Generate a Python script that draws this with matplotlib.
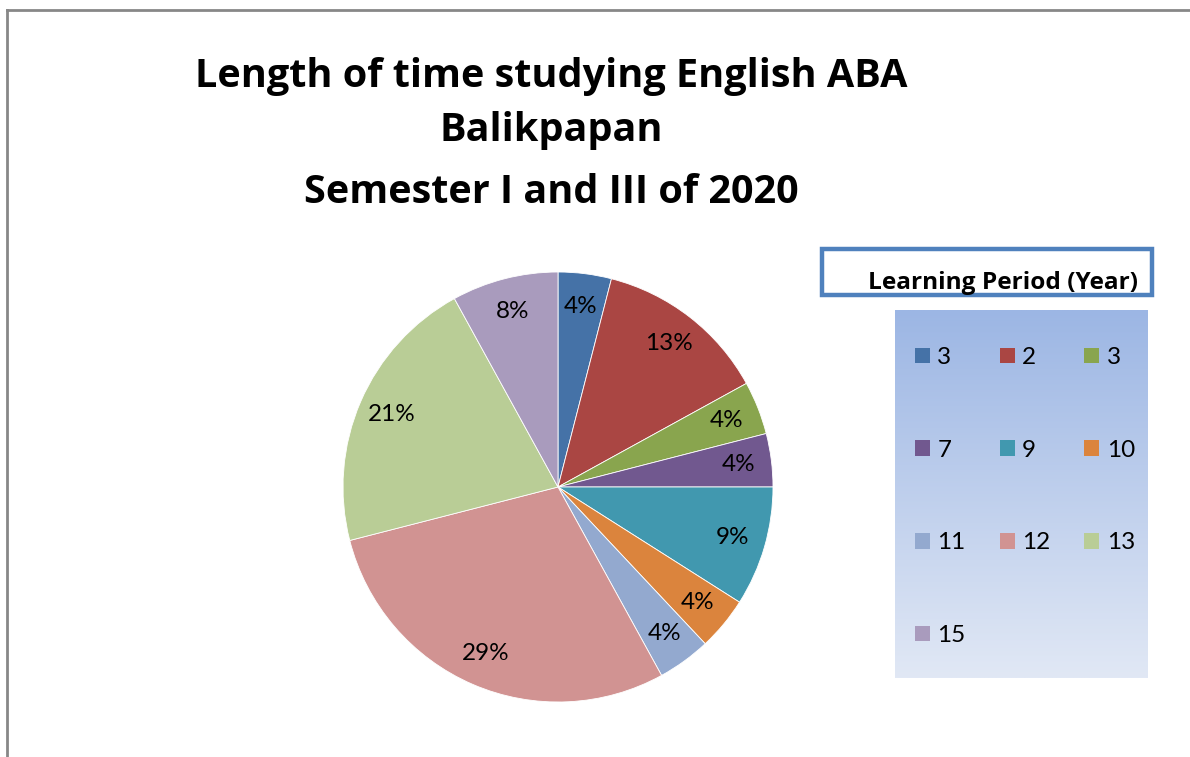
import numpy as np
import matplotlib
matplotlib.use("Agg")
import matplotlib.pyplot as plt
from matplotlib.patches import Rectangle
from matplotlib.lines import Line2D
from matplotlib.colors import LinearSegmentedColormap

plt.rcParams['font.family'] = ['Lato', 'DejaVu Sans']

# ---- data ----
title_lines = ["Length of time studying English ABA", "Balikpapan", "Semester I and III of 2020"]
legend_title = "Learning Period (Year)"
periods = ["3", "2", "3", "7", "9", "10", "11", "12", "13", "15"]
percents = [4, 13, 4, 4, 9, 4, 4, 29, 21, 8]
colors = ["#4572A7", "#AA4643", "#89A54E", "#71588F", "#4198AF",
          "#DB843D", "#93A9CF", "#D19392", "#B9CD96", "#A99BBD"]

W, H = 1190, 757
fig = plt.figure(figsize=(W / 100, H / 100), dpi=100)

def fx(x):
    return x / W

def fy(y):
    return 1 - y / H

# outer border (top and left)
fig.add_artist(Line2D([fx(7), fx(7)], [fy(10), 0], color="#878787", lw=2))
fig.add_artist(Line2D([fx(7), 1], [fy(10), fy(10)], color="#878787", lw=2))

# title
title_y = [87, 141, 203]
for line, yb in zip(title_lines, title_y):
    fig.text(fx(551), fy(yb), line, ha="center", va="baseline",
             fontsize=28.5, fontweight="bold", color="black",
             family=["Open Sans", "DejaVu Sans"])

# pie
cx, cy, R = 558, 487, 215
ax = fig.add_axes([fx(cx - R), fy(cy + R), 2 * R / W, 2 * R / H])
wedges, texts, autotexts = ax.pie(
    percents, colors=colors, startangle=90, counterclock=False,
    autopct="%.0f%%", pctdistance=0.845,
    wedgeprops=dict(edgecolor="white", linewidth=0.6),
    textprops=dict(fontsize=17.5, color="black"))
ax.set_xlim(-1, 1)
ax.set_ylim(-1, 1)
ax.set_aspect("equal")
ax.axis("off")

# legend gradient background
gx0, gy0, gx1, gy1 = 895, 310, 1148, 678
gax = fig.add_axes([fx(gx0), fy(gy1), (gx1 - gx0) / W, (gy1 - gy0) / H])
cmap = LinearSegmentedColormap.from_list("g", ["#9CB6E4", "#E1E8F5"])
grad = np.linspace(0, 1, 256).reshape(-1, 1)
gax.imshow(grad, aspect="auto", cmap=cmap, extent=[0, 1, 0, 1], origin="upper")
gax.axis("off")

# legend title box
fig.add_artist(Rectangle((fx(822), fy(295)), (1152 - 822) / W, (295 - 249) / H,
                         fill=False, edgecolor="#4F81BD", lw=3.2))
fig.text(fx(1003), fy(289), legend_title, ha="center", va="baseline",
         fontsize=17.6, fontweight="bold", color="black",
         family=["Open Sans", "DejaVu Sans"])

# legend entries (row-major display with 3 columns)
order = [0, 3, 6, 9, 1, 4, 7, 2, 5, 8]
leg = fig.legend([wedges[i] for i in order], [periods[i] for i in order],
                 ncol=3, loc="upper left",
                 bbox_to_anchor=(fx(915), fy(347)),
                 frameon=False, fontsize=17.5,
                 handlelength=0.62, handleheight=0.62, handletextpad=0.3,
                 columnspacing=1.4, labelspacing=2.95,
                 borderpad=0, borderaxespad=0)
for h in leg.legend_handles:
    h.set_edgecolor("none")

fig.savefig("out.png", dpi=100)
